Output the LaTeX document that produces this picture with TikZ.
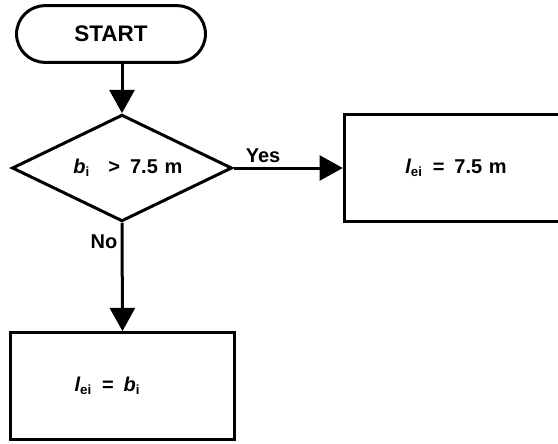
\documentclass[tikz,border=0pt]{standalone}
\usepackage{fontspec}
\setmainfont{Liberation Sans}
\usetikzlibrary{shapes.geometric,shapes.misc,arrows.meta}
\tikzset{
	term/.style={rounded rectangle,draw,line width=1.8pt,minimum width=120pt,minimum height=34pt,font=\fontsize{13.5}{16}\bfseries},
	decide/.style={diamond,draw,aspect=2,line width=1.8pt,minimum width=132pt,minimum height=64pt,inner sep=0pt,font=\fontsize{12}{14}\bfseries},
	proc/.style={rectangle,draw,line width=1.8pt,minimum width=134pt,minimum height=64pt,font=\fontsize{12}{14}\bfseries},
	go/.style={line width=1.8pt,-{Triangle[length=14pt,width=15pt]}},
	tag/.style={font=\fontsize{12}{14}\bfseries,inner sep=2pt}
}
\begin{document}
\begin{tikzpicture}[x=0.6pt,y=-0.6pt]
				\useasboundingbox (0,0) rectangle (558,443);
				\clip (0,0) rectangle (558,443);
				\node[term] (start) at (111,34) {START};
				\node[decide] (test) at (122,168) {\hspace*{7pt}{\itshape b}\textsubscript{i}\hspace{11pt}>\enspace 7.5\,\,m};
				\node[proc] (wide) at (456,168) {{\itshape l}\textsubscript{ei}\enspace=\enspace 7.5\,\,m};
				\node[proc] (narrow) at (122.5,386) {{\itshape l}\textsubscript{ei}\enspace=\enspace{\itshape b}\textsubscript{i}\hspace*{18pt}};
				\draw[go] (start.south -| test.north) to (test.north);
				\draw[go] (test.east) to node[tag,pos=0.27,above] {Yes} (wide.west);
				\draw[go] (test.south) to node[tag,pos=0.17,left] {No} (narrow.north);
\end{tikzpicture}
\end{document}
